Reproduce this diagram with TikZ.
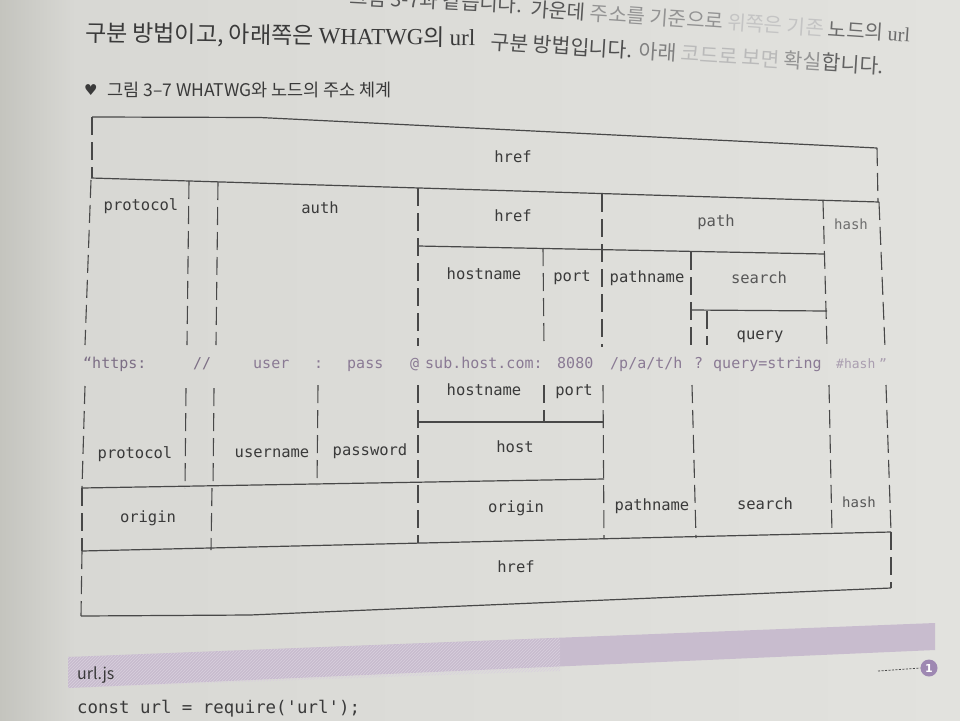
\documentclass[tikz,border=0pt]{standalone}
\usepackage{fontspec}
\newfontfamily\kr{Noto Sans CJK KR}
\newfontfamily\lser{Liberation Serif}
\newfontfamily\symf{DejaVu Sans}
\setmonofont{DejaVu Sans Mono}
\usetikzlibrary{patterns}
\definecolor{paper}{RGB}{216,216,212}
\definecolor{paperL}{RGB}{226,226,222}
\definecolor{paperD}{RGB}{196,196,190}
\definecolor{ink}{RGB}{58,58,58}
\definecolor{inkL}{RGB}{110,110,110}
\definecolor{linec}{RGB}{72,72,72}
\definecolor{urlc}{RGB}{138,122,148}
\definecolor{urlL}{RGB}{170,158,176}
\definecolor{band}{RGB}{200,188,206}
\definecolor{badge}{RGB}{158,136,178}
\begin{document}
\begin{tikzpicture}[x=1pt,y=-1pt,
  vl/.style={draw=linec,line width=1.1pt,dash pattern=on 18pt off 7pt},
  hl/.style={draw=linec,line width=1.2pt},
  lbl/.style={font=\ttfamily\fontsize{15.5}{16}\selectfont,text=ink,inner sep=0pt,text height=1.1ex,text depth=0pt},
  lbls/.style={lbl,font=\ttfamily\fontsize{14}{14}\selectfont,text=inkL},
  utok/.style={anchor=base west,inner sep=0pt,font=\ttfamily\fontsize{15}{15}\selectfont,text=urlc},
  body/.style={anchor=base west,inner sep=0pt,text=ink}]
\useasboundingbox (0,0) rectangle (960,720);
\clip (0,0) rectangle (960,720);
% paper
\fill[paper] (0,0) rectangle (960,720);
\shade[left color=paperD,right color=paper] (0,0) rectangle (75,720);
\shade[left color=paper,right color=paperL] (75,0) rectangle (960,720);

% body text (curved page)
\node[body,anchor=base east,rotate=-2.9,font=\kr\fontsize{20}{20}\selectfont,text=ink!85] (t1a) at (522,13) {그림 3-7과 같습니다.};
\node[body,rotate=-3.9,font=\kr\fontsize{20}{20}\selectfont] (t1b) at (530,16)
  {{\color{ink!85}가운데 }{\color{ink!55}주소를 기준으로 }{\color{ink!30}위쪽은 기존 }{\color{ink!75}노드의 {\lser url}}};
\node[body,rotate=-0.7,font=\kr\fontsize{23}{23}\selectfont] (t2a) at (85,41)
  {구분 방법이고, 아래쪽은 {\lser WHATWG}의 {\lser url}};
\node[body,rotate=-3.6,font=\kr\fontsize{20.5}{20.5}\selectfont] (t2b) at (490,49)
  {{\color{ink!90}구분 방법입니다. }{\color{ink!65}아래 }{\color{ink!35}코드로 보면 }{\color{ink!55}확실}{\color{ink!80}합니다.}};
% caption
\node[anchor=base west,inner sep=0pt,font=\symf\fontsize{15}{15}\selectfont,text=ink] (heart) at (84,95) {♥};
\node[body,font=\kr\fontsize{17.5}{17.5}\selectfont] (cap) at (107,96) {그림 3–7 WHATWG와 노드의 주소 체계};

% ===== upper (node) scheme =====
\draw[hl] (92,117) -- (260,117.5) -- (877,148);
\draw[vl] (92,117) -- (92,178);
\draw[vl] (877,148) -- (878,202);
\draw[hl] (91,178) -- (879,202);
\draw[vl] (91,180) -- (85,345);
\draw[vl] (189,181) -- (187,345);
\draw[vl] (218,182) -- (216,345);
\draw[vl] (418,188) -- (418,346);
\draw[hl] (418,246) -- (824,254);
\draw[vl] (602,194) -- (602,347);
\draw[vl] (823,201) -- (827,347);
\draw[vl] (543,248) -- (544,346);
\draw[vl] (691,252) -- (691,346);
\draw[hl] (691,310) -- (827,311);
\draw[vl] (707,311) -- (707,345);
\draw[vl] (879,202) -- (885,348);

\node[lbl] (uhref) at (513,160) {href};
\node[lbl] (uproto) at (141,208) {protocol};
\node[lbl] (uauth) at (320,211) {auth};
\node[lbl] (uhref2) at (513,219) {href};
\node[lbl,text=ink!85] (upath) at (716,224) {path};
\node[lbls] (uhash) at (851,227) {hash};
\node[lbl] (uhost) at (484,277) {hostname};
\node[lbl] (uport) at (572,279) {port};
\node[lbl] (upathn) at (647,280) {pathname};
\node[lbl,text=ink!85] (usearch) at (759,281) {search};
\node[lbl] (uquery) at (760,337) {query};

% ===== the address =====
\node[utok,text=urlc!90!black] (s1) at (83,368) {“https:};
\node[utok,text=urlc!90!black] (s2) at (193,368) {//};
\node[utok] (s3) at (253,368) {user};
\node[utok] (s4) at (314,368) {:};
\node[utok] (s5) at (347,368) {pass};
\node[utok] (s6) at (410,368) {@};
\node[utok] (s7) at (425,368) {sub.host.com:};
\node[utok] (s8) at (557,368) {8080};
\node[utok] (s9) at (610,368) {/p/a/t/h};
\node[utok] (s10) at (694,368) {?};
\node[utok] (s11) at (713,368) {query=string};
\node[utok,text=urlL,font=\ttfamily\fontsize{13}{13}\selectfont] (s12) at (836,368) {\#hash};
\node[utok,text=urlL,font=\ttfamily\fontsize{13}{13}\selectfont] (s13) at (879,368) {”};

% ===== lower (WHATWG) scheme =====
\draw[vl] (85,386) -- (82,488);
\draw[vl] (186,388) -- (185,488);
\draw[vl] (214,388) -- (213,487);
\draw[vl] (318,385) -- (317,485);
\draw[vl] (418,385) -- (418,543);
\draw[hl] (418,422) -- (603,422);
\draw[vl] (544,385) -- (544,422);
\draw[vl] (603,385) -- (604,539);
\draw[hl] (82,488) -- (604,479);
\draw[vl] (692,385) -- (696,538);
\draw[vl] (829,385) -- (832,534);
\draw[vl] (886,385) -- (891,532);
\draw[vl] (82,488) -- (82,551);
\draw[vl] (212,488) -- (211,550);
\draw[hl] (82,551) -- (891,532);
\draw[vl] (82,551) -- (81,616);
\draw[hl] (81,616) -- (250,615) -- (891,588);
\draw[vl] (891,532) -- (891,588);

\node[lbl] (lhost) at (484,393) {hostname};
\node[lbl] (lport) at (574,393) {port};
\node[lbl] (lproto) at (135,456) {protocol};
\node[lbl] (luser) at (272,455) {username};
\node[lbl] (lpass) at (370,453) {password};
\node[lbl] (lhostb) at (515,450) {host};
\node[lbl] (lorig1) at (148,520) {origin};
\node[lbl] (lorig2) at (516,510) {origin};
\node[lbl] (lpathn) at (652,508) {pathname};
\node[lbl] (lsearch) at (765,507) {search};
\node[lbls,text=ink!85] (lhash) at (859,505) {hash};
\node[lbl] (lhref) at (516,570) {href};

% ===== code header =====
\fill[band] (68,657) -- (935,623) -- (935,650) -- (68,688) -- cycle;
\begin{scope}
\clip (68,657) -- (560,638) -- (560,671) -- (68,688) -- cycle;
\fill[pattern=north east lines,pattern color=band!70!white] (60,620) rectangle (570,700);
\end{scope}
\node[body,font=\kr\fontsize{16}{16}\selectfont] (urljs) at (77,679) {url.js};
\node[circle,fill=badge,minimum size=17pt,inner sep=0pt,text=white,font=\symf\bfseries\fontsize{11}{11}\selectfont] (badge) at (929,668) {1};
\coordinate (lead) at (878,671);
\draw[linec,line width=0.8pt,dash pattern=on 2pt off 1.5pt] (lead) -- (badge.west);
\node[body,font=\ttfamily\fontsize{17.4}{17.4}\selectfont] (code) at (77,713) {const url = require('url');};
\end{tikzpicture}
\end{document}
